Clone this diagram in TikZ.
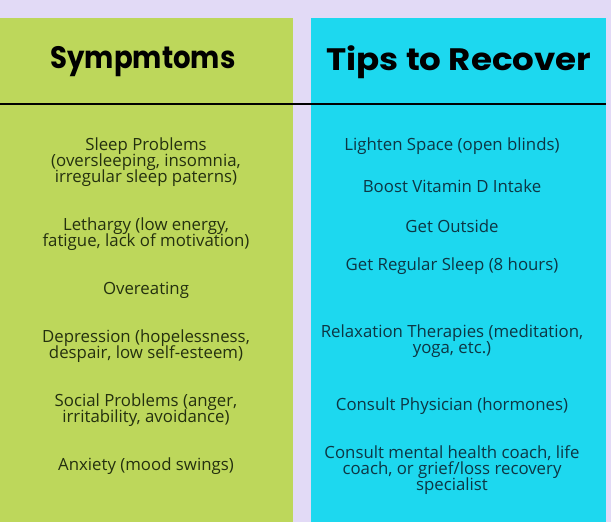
\documentclass[tikz,border=0pt]{standalone}
\usepackage{fontspec}
\usepackage{graphicx}
\setmainfont{Open Sans}
\newfontfamily\headfont{Poppins}[BoldFont=* Bold]
\newcommand\mytightlines{\lineskiplimit=-20pt\relax\lineskip=0pt\relax}
\definecolor{bglav}{HTML}{E2DAF6}
\definecolor{panelgreen}{HTML}{BDD75B}
\definecolor{panelcyan}{HTML}{1DD8EF}
\definecolor{greentext}{HTML}{24300F}
\definecolor{cyantext}{HTML}{0D3644}
\begin{document}
\begin{tikzpicture}[x=1pt,y=-1pt,
  headstyle/.style={font=\headfont\bfseries\fontsize{31}{34}\selectfont, text=black, inner sep=0pt, anchor=center},
  leftitem/.style={font=\fontsize{16.8}{16}\selectfont\mytightlines, text=greentext, align=center, inner sep=0pt, anchor=center},
  rightitem/.style={font=\fontsize{16.8}{16}\selectfont\mytightlines, text=cyantext, align=center, inner sep=0pt, anchor=center}]
\useasboundingbox (0,0) rectangle (611,522);
\fill[bglav] (0,0) rectangle (611,522);
\fill[panelgreen] (0,18) rectangle (293,522);
\fill[panelcyan] (311,18) rectangle (606,522);
\node[headstyle] (h1) at (143,62) {\scalebox{0.89}[1]{Sympmtoms}};
\node[headstyle] (h2) at (459,62) {\scalebox{1.1}[1]{Tips to Recover}};
\coordinate (la) at (0,104);
\coordinate (lb) at (606,104);
\draw[line width=2.5pt, black] (la) -- (lb);
% symptoms
\node[leftitem] (s1) at (146,162) {Sleep Problems\\(oversleeping, insomnia,\\irregular sleep paterns)};
\node[leftitem] (s2) at (146,234) {Lethargy (low energy,\\fatigue, lack of motivation)};
\node[leftitem] (s3) at (146,290) {Overeating};
\node[leftitem] (s4) at (146,346) {Depression (hopelessness,\\despair, low self-esteem)};
\node[leftitem] (s5) at (146,410) {Social Problems (anger,\\irritability, avoidance)};
\node[leftitem] (s6) at (146,466) {Anxiety (mood swings)};
% tips
\node[rightitem] (t1) at (452,146) {Lighten Space (open blinds)};
\node[rightitem] (t2) at (452,186) {Boost Vitamin D Intake};
\node[rightitem] (t3) at (452,226) {Get Outside};
\node[rightitem] (t4) at (452,266) {Get Regular Sleep (8 hours)};
\node[rightitem] (t5) at (452,341) {Relaxation Therapies (meditation,\\yoga, etc.)};
\node[rightitem] (t6) at (452,406) {Consult Physician (hormones)};
\node[rightitem] (t7) at (452,470) {Consult mental health coach, life\\coach, or grief/loss recovery\\specialist};
\end{tikzpicture}
\end{document}
